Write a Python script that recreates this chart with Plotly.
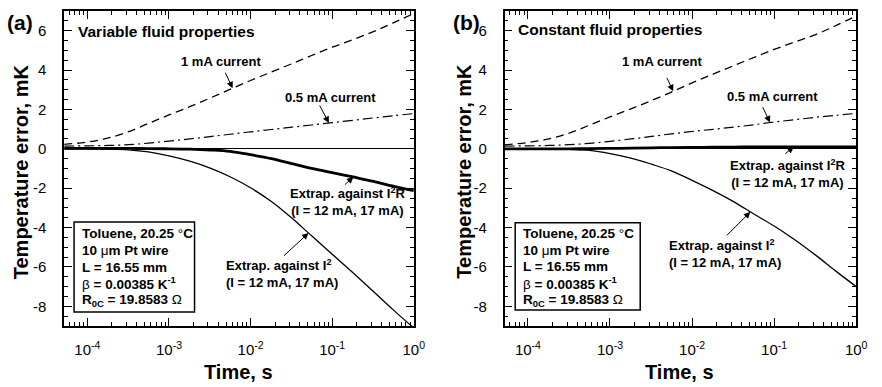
import numpy as np
import plotly.graph_objects as go

# Sampling times (s), quarter-decade steps
t = [5.2e-5, 1e-4, 1.8e-4, 3.2e-4, 5.6e-4, 1e-3, 1.8e-3, 3.2e-3, 5.6e-3,
     1e-2, 1.8e-2, 3.2e-2, 5.6e-2, 0.1, 0.18, 0.32, 0.56, 1.0]

# (a) Variable fluid properties, temperature error in mK
var_1mA = [0.23, 0.34, 0.55, 0.87, 1.29, 1.72, 2.14, 2.58, 3.02, 3.47, 3.9, 4.32, 4.74, 5.16, 5.55, 5.95, 6.4, 6.87]
var_05mA = [0.14, 0.15, 0.17, 0.21, 0.29, 0.39, 0.5, 0.62, 0.74, 0.86, 0.98, 1.1, 1.21, 1.33, 1.45, 1.57, 1.68, 1.79]
var_I2R = [0.02, 0.02, 0.02, 0.02, 0.01, 0.0, -0.02, -0.06, -0.13, -0.3, -0.5, -0.75, -0.99, -1.21, -1.43, -1.65, -1.9, -2.13]
var_I2 = [0.0, 0.0, -0.01, -0.05, -0.16, -0.36, -0.63, -0.98, -1.42, -1.98, -2.68, -3.52, -4.42, -5.35, -6.3, -7.25, -8.18, -9.1]

# (b) Constant fluid properties, temperature error in mK
con_1mA = [0.2, 0.32, 0.5, 0.8, 1.2, 1.62, 2.03, 2.45, 2.88, 3.35, 3.79, 4.22, 4.63, 5.05, 5.43, 5.8, 6.25, 6.75]
con_05mA = [0.14, 0.15, 0.17, 0.21, 0.28, 0.38, 0.5, 0.63, 0.76, 0.88, 0.99, 1.1, 1.22, 1.36, 1.48, 1.6, 1.7, 1.8]
con_I2R = [0.0, 0.0, 0.0, 0.0, 0.01, 0.02, 0.03, 0.05, 0.06, 0.07, 0.08, 0.09, 0.1, 0.1, 0.1, 0.1, 0.1, 0.1]
con_I2 = [0.0, 0.0, 0.0, -0.03, -0.08, -0.24, -0.47, -0.78, -1.12, -1.6, -2.12, -2.68, -3.3, -3.92, -4.63, -5.4, -6.2, -7.0]

x_tickvals = [1e-4, 1e-3, 1e-2, 1e-1, 1.0]
x_ticktext = ["10<sup>-4</sup>", "10<sup>-3</sup>", "10<sup>-2</sup>", "10<sup>-1</sup>", "10<sup>0</sup>"]
y_tickvals = [-8, -6, -4, -2, 0, 2, 4, 6]
y_ticktext = ["-8", "-6", "-4", "-2", "0", "2", "4", "6"]

info_lines = [
    "<b>Toluene, 20.25 </b>°<b>C</b>",
    "<b>10 </b>μ<b>m Pt wire</b>",
    "<b>L = 16.55 mm</b>",
    "β<b> = 0.00385 K<sup>-1</sup></b>",
    "<b>R<sub>0C</sub> = 19.8583 </b>Ω",
]

W, H = 882, 387
FONT = "Liberation Sans, Arial, Helvetica, sans-serif"

minor_x = [k * 10.0 ** e for e in range(-5, 0) for k in range(2, 10) if 5.2e-5 <= k * 10.0 ** e <= 1]

fig = go.Figure()

panels = [
    ("x", "y", var_1mA, var_05mA, var_I2R, var_I2),
    ("x2", "y2", con_1mA, con_05mA, con_I2R, con_I2),
]
for xa, ya, s1, s05, sr, s2 in panels:
    fig.add_trace(go.Scatter(x=t, y=s1, mode="lines", xaxis=xa, yaxis=ya, line_shape="spline",
                             line=dict(color="black", width=1.3, dash="8px,5px")))
    fig.add_trace(go.Scatter(x=t, y=s05, mode="lines", xaxis=xa, yaxis=ya, line_shape="spline",
                             line=dict(color="black", width=1.2, dash="10px,4px,2px,4px")))
    fig.add_trace(go.Scatter(x=t, y=sr, mode="lines", xaxis=xa, yaxis=ya, line_shape="spline",
                             line=dict(color="black", width=2.8)))
    fig.add_trace(go.Scatter(x=t, y=s2, mode="lines", xaxis=xa, yaxis=ya, line_shape="spline",
                             line=dict(color="black", width=1.3)))

xcommon = dict(
    type="log", range=[np.log10(5.2e-5), 0], tickvals=x_tickvals, ticktext=x_ticktext,
    ticks="inside", ticklen=8, tickwidth=1.2, tickcolor="black",
    showline=True, linecolor="black", linewidth=1.6, mirror="allticks",
    showgrid=False, zeroline=False,
    minor=dict(tickvals=minor_x, ticks="inside", ticklen=4, tickwidth=1, tickcolor="black", showgrid=False),
    tickfont=dict(family=FONT, size=15, color="black"), ticklabelstandoff=9,
)
ycommon = dict(
    range=[-9, 7], tickvals=y_tickvals, ticktext=y_ticktext,
    ticks="inside", ticklen=8, tickwidth=1.2, tickcolor="black",
    showline=True, linecolor="black", linewidth=1.6, mirror="allticks",
    showgrid=False, zeroline=True, zerolinecolor="black", zerolinewidth=1,
    minor=dict(dtick=0.5, ticks="inside", ticklen=4, tickwidth=1, tickcolor="black", showgrid=False),
    tickfont=dict(family=FONT, size=15, color="black"), ticklabelstandoff=13,
)

ydom = [1 - 326 / H, 1 - 11 / H]
fig.update_layout(
    width=W, height=H, margin=dict(l=0, r=0, t=0, b=0),
    paper_bgcolor="white", plot_bgcolor="white", showlegend=False,
    xaxis=dict(domain=[65 / W, 419 / W], anchor="y", **xcommon),
    yaxis=dict(domain=ydom, anchor="x", **ycommon),
    xaxis2=dict(domain=[511 / W, 867 / W], anchor="y2", **xcommon),
    yaxis2=dict(domain=ydom, anchor="x2", **ycommon),
)


def text(px, py, s, size=13, xanchor="center", yanchor="middle", align="center", angle=0, **kw):
    fig.add_annotation(x=px / W, y=1 - py / H, xref="paper", yref="paper", text=s,
                       showarrow=False, xanchor=xanchor, yanchor=yanchor, align=align,
                       textangle=angle, font=dict(family=FONT, size=size, color="black"), **kw)


def arrow(xa, ya, tip_t, series, ax, ay):
    lx = np.log10(tip_t)
    yv = float(np.interp(lx, np.log10(t), series))
    fig.add_annotation(x=lx, y=yv, xref=xa, yref=ya, text="", showarrow=True,
                       ax=ax, ay=ay, arrowhead=2, arrowsize=1.3, arrowwidth=1,
                       arrowcolor="black", standoff=0)


def info_box(x0, y0, x1, y1, text_x, line_ys):
    fig.add_shape(type="rect", xref="paper", yref="paper",
                  x0=x0 / W, x1=x1 / W, y0=1 - y1 / H, y1=1 - y0 / H,
                  line=dict(color="black", width=1.5), fillcolor="white", layer="above")
    for s, yy in zip(info_lines, line_ys):
        text(text_x, yy, s, size=13.5, xanchor="left")


# Panel (a)
text(20.5, 22.5, "<b>(a)</b>", size=21)
text(77, 31.5, "<b>Variable fluid properties</b>", size=15.5, xanchor="left")
text(224, 61, "<b>1 mA current</b>")
text(335, 97, "<b>0.5 mA current</b>")
text(352, 201.5, "<b>Extrap. against I<sup>2</sup>R<br>(I = 12 mA, 17 mA)</b>")
text(227, 273, "<b>Extrap. against I<sup>2</sup><br>(I = 12 mA, 17 mA)</b>", xanchor="left", align="left")
info_box(75, 222, 197, 312, 81, [233, 250, 267, 283, 300])
text(21, 171.5, "<b>Temperature error, mK</b>", size=20, angle=-90)
text(242, 372, "<b>Time, s</b>", size=20)

arrow("x", "y", 10 ** -2.22, var_1mA, -8, -17)
arrow("x", "y", 10 ** -1.04, var_05mA, -10, -19)
arrow("x", "y", 10 ** -0.74, var_I2R, -10, 9)
arrow("x", "y", 10 ** -1.29, var_I2, -26, 24)

# Panel (b)
text(472, 22.5, "<b>(b)</b>", size=21)
text(523, 29.5, "<b>Constant fluid properties</b>", size=15.5, xanchor="left")
text(670, 61, "<b>1 mA current</b>")
text(782.5, 96.7, "<b>0.5 mA current</b>")
text(797, 173.5, "<b>Extrap. against I<sup>2</sup>R<br>(I = 12 mA, 17 mA)</b>")
text(675, 253.3, "<b>Extrap. against I<sup>2</sup><br>(I = 12 mA, 17 mA)</b>", xanchor="left", align="left")
info_box(521.7, 222.7, 648.3, 310, 528, [233.3, 250, 266.7, 283.3, 300])
text(469, 171.5, "<b>Temperature error, mK</b>", size=20, angle=-90)
text(688, 372, "<b>Time, s</b>", size=20)

arrow("x2", "y2", 10 ** -2.23, con_1mA, -7, -15)
arrow("x2", "y2", 10 ** -1.05, con_05mA, -8, -17)
arrow("x2", "y2", 10 ** -0.76, con_I2R, -10, 8)
arrow("x2", "y2", 10 ** -1.29, con_I2, -25, 25)

fig.write_html("out.html")
